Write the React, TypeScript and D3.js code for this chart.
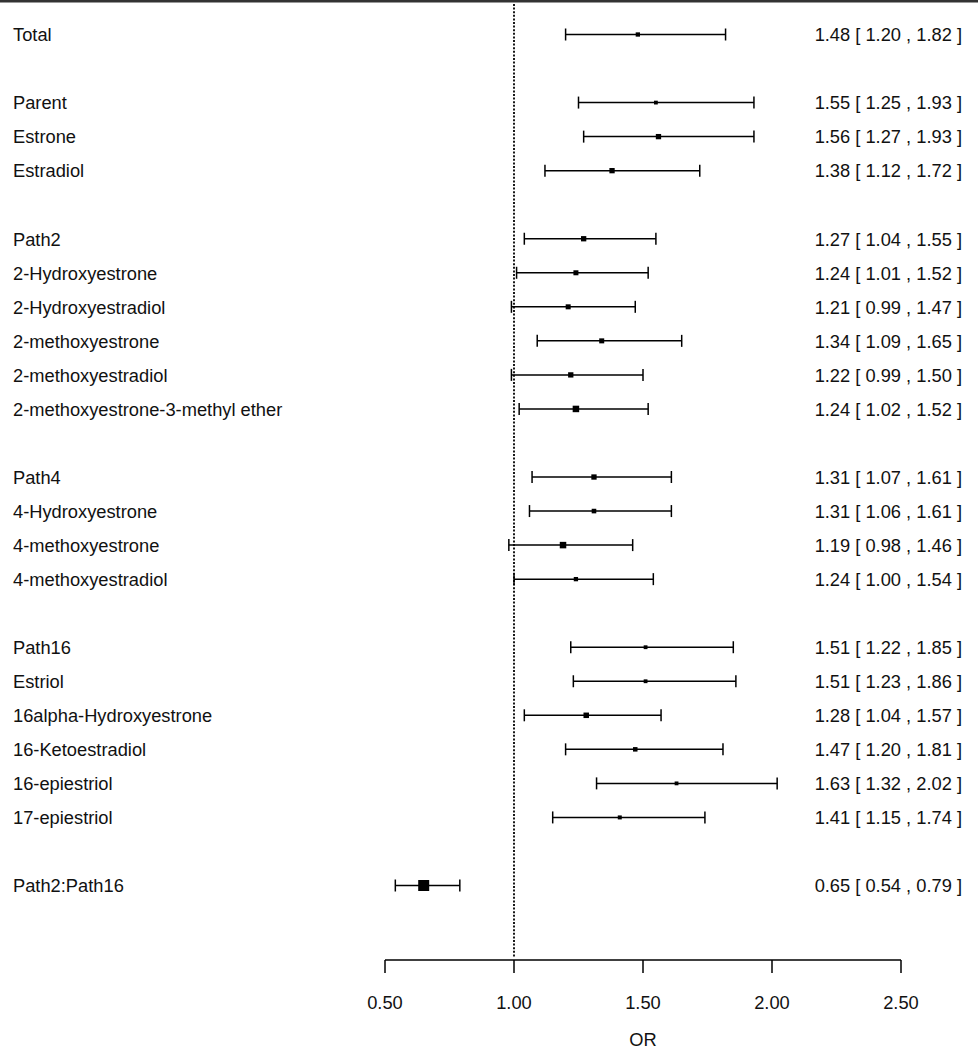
import React from "react";
import * as d3 from "d3";

const labels = [
  "Total",
  "Parent", "Estrone", "Estradiol",
  "Path2", "2-Hydroxyestrone", "2-Hydroxyestradiol", "2-methoxyestrone", "2-methoxyestradiol", "2-methoxyestrone-3-methyl ether",
  "Path4", "4-Hydroxyestrone", "4-methoxyestrone", "4-methoxyestradiol",
  "Path16", "Estriol", "16alpha-Hydroxyestrone", "16-Ketoestradiol", "16-epiestriol", "17-epiestriol",
  "Path2:Path16",
];
const rows = [0, 2, 3, 4, 6, 7, 8, 9, 10, 11, 13, 14, 15, 16, 18, 19, 20, 21, 22, 23, 25];
const estimates = [1.48, 1.55, 1.56, 1.38, 1.27, 1.24, 1.21, 1.34, 1.22, 1.24, 1.31, 1.31, 1.19, 1.24, 1.51, 1.51, 1.28, 1.47, 1.63, 1.41, 0.65];
const lowers = [1.20, 1.25, 1.27, 1.12, 1.04, 1.01, 0.99, 1.09, 0.99, 1.02, 1.07, 1.06, 0.98, 1.00, 1.22, 1.23, 1.04, 1.20, 1.32, 1.15, 0.54];
const uppers = [1.82, 1.93, 1.93, 1.72, 1.55, 1.52, 1.47, 1.65, 1.50, 1.52, 1.61, 1.61, 1.46, 1.54, 1.85, 1.86, 1.57, 1.81, 2.02, 1.74, 0.79];
const boxSizes = [4.3, 3.8, 5.3, 5.3, 5.3, 5, 5, 5, 5.3, 6.5, 5.3, 4.6, 6.5, 4.3, 3.8, 3.8, 5.5, 4.5, 3.8, 4, 11];
const tickValues = [0.5, 1.0, 1.5, 2.0, 2.5];

const W = 978;
const H = 1050;
const FONT = "'Liberation Sans', Arial, sans-serif";
const FS = 18.3;

export default function App() {
  const x = d3.scaleLinear().domain([0.5, 2.5]).range([385, 901]);
  const y = d3.scaleLinear().domain([0, 25]).range([34.5, 885.5]);
  const fmt = d3.format(".2f");
  const axisY = 960;
  return (
    <svg width={W} height={H} style={{ position: "absolute", left: 0, top: 0, background: "#fff" }}>
      <rect x={0} y={0} width={W} height={H} fill="#fff" />
      <rect x={0} y={0} width={W} height={2.5} fill="#333" />
      <line x1={x(1)} x2={x(1)} y1={4} y2={axisY - 3} stroke="#000" strokeWidth={1.8} strokeDasharray="2,1.6" />
      {labels.map((lab, i) => {
        const yy = y(rows[i]);
        const s = boxSizes[i];
        return (
          <g key={lab}>
            <text x={13} y={yy + 6.8} fontFamily={FONT} fontSize={FS} fill="#111">{lab}</text>
            <text x={962} y={yy + 6.8} fontFamily={FONT} fontSize={FS} fill="#111" textAnchor="end">
              {`${fmt(estimates[i])} [ ${fmt(lowers[i])} , ${fmt(uppers[i])} ]`}
            </text>
            <line x1={x(lowers[i])} x2={x(uppers[i])} y1={yy} y2={yy} stroke="#000" strokeWidth={1.5} />
            <line x1={x(lowers[i])} x2={x(lowers[i])} y1={yy - 6} y2={yy + 6} stroke="#000" strokeWidth={1.5} />
            <line x1={x(uppers[i])} x2={x(uppers[i])} y1={yy - 6} y2={yy + 6} stroke="#000" strokeWidth={1.5} />
            <rect x={x(estimates[i]) - s / 2} y={yy - s / 2} width={s} height={s} fill="#000" />
          </g>
        );
      })}
      <line x1={x(0.5)} x2={x(2.5)} y1={axisY} y2={axisY} stroke="#000" strokeWidth={1.5} />
      {tickValues.map((t) => (
        <g key={t}>
          <line x1={x(t)} x2={x(t)} y1={axisY} y2={axisY + 13} stroke="#000" strokeWidth={1.5} />
          <text x={x(t)} y={axisY + 49} fontFamily={FONT} fontSize={FS} fill="#111" textAnchor="middle">{fmt(t)}</text>
        </g>
      ))}
      <text x={x(1.5)} y={axisY + 86} fontFamily={FONT} fontSize={FS} fill="#111" textAnchor="middle">OR</text>
    </svg>
  );
}
